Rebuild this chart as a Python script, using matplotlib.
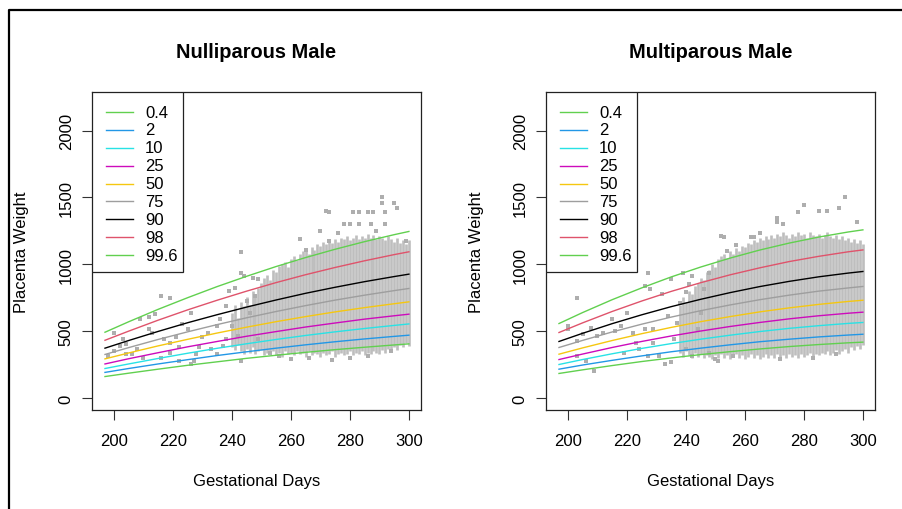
import matplotlib
matplotlib.use("Agg")
import matplotlib.pyplot as plt
from matplotlib.lines import Line2D
from matplotlib.patches import Rectangle

plt.rcParams['font.family'] = ['Liberation Sans', 'DejaVu Sans']

# centile curves
curveDays = [197, 205, 215, 225, 235, 245, 255, 265, 275, 285, 295, 300]
centileNames = ['0.4', '2', '10', '25', '50', '75', '90', '98', '99.6']
centileColours = ['#61D04F', '#2297E6', '#28E2E5', '#CD0BBC', '#F5C710',
                  '#9E9E9E', 'black', '#DF536B', '#61D04F']

nulliCurves = [
    [162, 187, 217, 246, 272, 298, 321, 343, 363, 381, 398, 406],
    [193, 222, 256, 288, 319, 347, 374, 399, 422, 443, 462, 471],
    [222, 256, 297, 336, 373, 407, 439, 469, 496, 521, 544, 555],
    [256, 295, 340, 384, 424, 463, 498, 532, 562, 591, 616, 628],
    [294, 338, 391, 440, 487, 531, 572, 610, 645, 677, 706, 720],
    [327, 378, 439, 496, 550, 601, 648, 692, 733, 770, 804, 820],
    [374, 431, 499, 564, 624, 681, 734, 784, 829, 871, 909, 927],
    [433, 501, 583, 660, 732, 800, 864, 923, 977, 1027, 1073, 1094],
    [493, 571, 664, 751, 834, 911, 984, 1051, 1113, 1170, 1222, 1246],
]
multiCurves = [
    [185, 212, 244, 274, 301, 326, 348, 368, 386, 401, 414, 419],
    [217, 248, 283, 316, 347, 374, 399, 422, 441, 458, 472, 478],
    [252, 289, 332, 372, 408, 441, 471, 498, 522, 542, 559, 566],
    [289, 330, 379, 424, 465, 502, 536, 566, 593, 616, 635, 643],
    [329, 376, 431, 482, 529, 572, 610, 645, 675, 701, 723, 732],
    [379, 432, 495, 553, 606, 654, 697, 736, 770, 800, 824, 835],
    [424, 485, 557, 623, 684, 739, 789, 834, 873, 907, 935, 947],
    [491, 563, 648, 726, 798, 863, 922, 974, 1021, 1060, 1094, 1108],
    [558, 640, 736, 824, 906, 980, 1047, 1107, 1159, 1204, 1242, 1258],
]

# dense columns of observations: one range per gestational day
nulliColDays = list(range(240, 301))
nulliColLow = [380, 360, 400, 350, 330, 370, 340, 380, 330, 350,
               360, 320, 340, 330, 350, 320, 340, 310, 350, 330,
               340, 320, 350, 330, 340, 310, 350, 320, 340, 330,
               310, 340, 320, 330, 350, 310, 330, 340, 320, 330,
               350, 320, 340, 330, 350, 320, 340, 330, 350, 340,
               330, 360, 340, 370, 350, 380, 360, 400, 380, 410, 390]
nulliColHigh = [640, 700, 600, 720, 690, 760, 700, 800, 780, 820,
                860, 900, 920, 880, 960, 940, 990, 1000, 1020, 980,
                1040, 1060, 1030, 1080, 1100, 1120, 1080, 1130, 1110, 1150,
                1140, 1170, 1150, 1180, 1160, 1190, 1170, 1200, 1190, 1210,
                1180, 1200, 1220, 1190, 1210, 1200, 1230, 1200, 1220, 1190,
                1210, 1200, 1180, 1210, 1190, 1170, 1200, 1160, 1180, 1150, 1180]

multiColDays = list(range(238, 301))
multiColLow = [340, 310, 350, 320, 300, 340, 310, 330, 300, 320,
               310, 290, 320, 300, 330, 300, 320, 290, 310, 330,
               300, 320, 290, 310, 330, 300, 320, 290, 310, 330,
               300, 320, 300, 330, 310, 320, 300, 330, 310, 320,
               300, 330, 310, 320, 340, 310, 330, 320, 340, 330,
               350, 320, 340, 360, 330, 350, 370, 340, 380, 360,
               390, 370, 400]
multiColHigh = [700, 760, 720, 800, 780, 840, 860, 900, 880, 940,
                960, 1000, 980, 1040, 1060, 1080, 1050, 1100, 1080, 1120,
                1100, 1140, 1130, 1160, 1150, 1180, 1170, 1200, 1180, 1210,
                1190, 1220, 1200, 1230, 1210, 1240, 1220, 1200, 1230, 1210,
                1240, 1220, 1230, 1200, 1240, 1220, 1210, 1230, 1200, 1220,
                1240, 1210, 1200, 1220, 1190, 1210, 1180, 1200, 1170, 1190,
                1160, 1180, 1150]

# scattered single observations
nulliPtDays = [200, 202, 204, 198, 204, 208, 212, 213, 217, 219, 221, 222, 226, 227,
               222, 230, 232, 235, 236, 233, 235, 238, 239, 241, 243, 244, 245, 240,
               242, 243, 247, 249, 246, 248, 249, 238, 237, 229, 228, 219, 216, 210,
               206, 200, 203, 226, 223, 225, 216, 219, 209, 212, 214, 243,
               291, 295, 296, 273, 281, 283, 286, 288, 292, 278, 280, 283, 287, 292,
               270, 263, 265, 273, 276, 289, 299, 260, 274, 266, 280, 286, 294, 253,
               256, 272, 291]
nulliPtWts = [486, 391, 404, 316, 329, 366, 516, 486, 441, 416, 461, 379, 254, 279,
              279, 454, 491, 540, 590, 366, 329, 690, 802, 827, 939, 914, 727, 540,
              466, 279, 902, 889, 640, 765, 441, 441, 391, 379, 329, 341, 304, 304,
              329, 354, 441, 640, 553, 516, 765, 747, 590, 610, 628, 1094,
              1500, 1457, 1418, 1395, 1395, 1395, 1395, 1395, 1395, 1305, 1305, 1305, 1305, 1305,
              1246, 1188, 1106, 1176, 1238, 1250, 1176, 291, 284, 304, 304, 316, 354, 341,
              316, 1400, 1462]

multiPtDays = [203, 227, 200, 200, 203, 205, 208, 210, 212, 209, 206, 203, 215, 216,
               218, 220, 222, 223, 224, 219, 226, 228, 226, 227, 229, 229, 232, 234,
               235, 233, 235, 231, 236, 237, 238, 240, 241, 242, 240, 242, 244, 245,
               246, 248, 248, 239, 252, 257,
               280, 294, 292, 278, 253, 254, 262, 263, 271, 271, 285, 288, 298, 265,
               273, 250, 256, 272, 283, 291, 251]
multiPtWts = [747, 939, 540, 516, 428, 478, 528, 466, 491, 204, 279, 316, 590, 503,
              540, 640, 491, 416, 366, 341, 839, 815, 516, 316, 516, 416, 777, 615,
              889, 254, 267, 316, 441, 565, 715, 790, 852, 914, 366, 316, 516, 640,
              815, 939, 341, 939, 1209, 1143,
              1442, 1500, 1425, 1388, 1201, 1101, 1201, 1201, 1350, 1313, 1400, 1400, 1313, 1238,
              1300, 291, 316, 291, 304, 329, 279]

xTicks = [200, 220, 240, 260, 280, 300]
yTicks = [0, 500, 1000, 1500, 2000]

gsPointColour = '#BEBEBE'


def draw_panel(axes, sTitle, colDays, colLow, colHigh, ptDays, ptWts, curves, xCentre):
    """
    One centile panel, R base graphics look.
    """
    axes.vlines(colDays, colLow, colHigh, colors=gsPointColour, linewidth=1.9, zorder=1)
    axes.scatter(ptDays, ptWts, marker='s', s=6, color='#AEAEAE', linewidths=0, zorder=1)
    for curve, colour in zip(curves, centileColours):
        axes.plot(curveDays, curve, color=colour, linewidth=1.0, zorder=2)
    axes.set_xlim(192.6, 304.1)
    axes.set_ylim(-88, 2288)
    axes.set_xticks(xTicks)
    axes.set_yticks(yTicks)
    axes.tick_params(length=7.2, width=0.8, labelsize=12, color='#333333')
    axes.tick_params(axis='x', pad=9)
    axes.tick_params(axis='y', pad=6, labelrotation=90)
    for lbl in axes.get_yticklabels():
        lbl.set_va('center')
    for sp in axes.spines.values():
        sp.set_linewidth(0.9)
        sp.set_color('#222222')
    # legend box, top left corner like R legend("topleft")
    axes.add_patch(Rectangle((0, 0.434), 0.2766, 0.566, transform=axes.transAxes,
                             facecolor='white', edgecolor='#222222', linewidth=0.9, zorder=5))
    for i, (name, colour) in enumerate(zip(centileNames, centileColours)):
        yy = 0.937 - i*0.0562
        axes.plot([0.0425, 0.1246], [yy, yy], transform=axes.transAxes,
                  color=colour, linewidth=1.0, zorder=6, clip_on=False)
        axes.text(0.161, yy, name, transform=axes.transAxes, fontsize=12,
                  va='center', ha='left', zorder=6)
    fig = axes.figure
    fig.text(xCentre/903, 1 - 53/510, sTitle, ha='center', va='center',
             fontsize=14.4, fontweight='bold')
    fig.text(xCentre/903, 1 - 482/510, 'Gestational Days', ha='center', va='center', fontsize=12)


fig = plt.figure(figsize=(9.03, 5.10), dpi=100)
axL = fig.add_axes([92/903, 1 - 411/510, 329/903, 318/510])
axR = fig.add_axes([546/903, 1 - 411/510, 329/903, 318/510])

draw_panel(axL, 'Nulliparous Male', nulliColDays, nulliColLow, nulliColHigh,
           nulliPtDays, nulliPtWts, nulliCurves, 256.5)
draw_panel(axR, 'Multiparous Male', multiColDays, multiColLow, multiColHigh,
           multiPtDays, multiPtWts, multiCurves, 710.5)

fig.text(22/903, 1 - 252/510, 'Placenta Weight', rotation=90, ha='center', va='center', fontsize=12)
fig.text(476/903, 1 - 252/510, 'Placenta Weight', rotation=90, ha='center', va='center', fontsize=12)

# outer frame, only top and left edges fall inside the picture
fig.add_artist(Line2D([9.5/903, 9.5/903, 1.0], [0.0, 1 - 10.5/510, 1 - 10.5/510],
                      transform=fig.transFigure, color='black', linewidth=1.6))

fig.savefig('out.png', dpi=100)
